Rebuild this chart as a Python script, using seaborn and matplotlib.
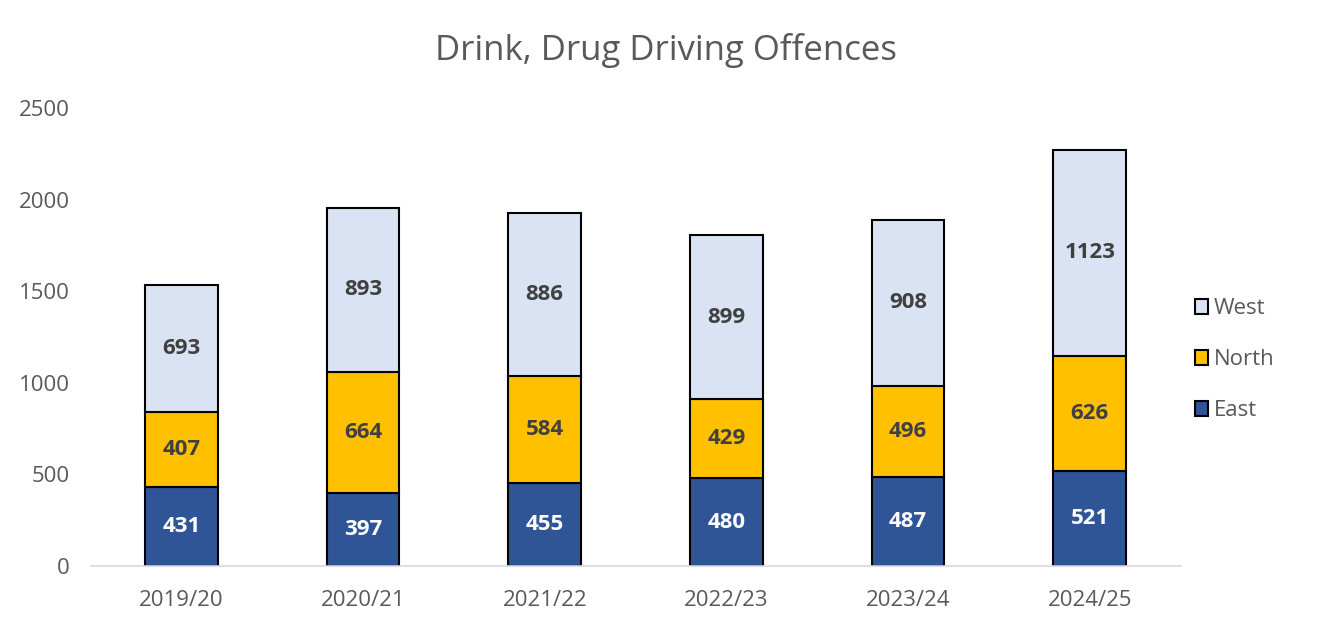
import matplotlib.pyplot as plt
import numpy as np
import pandas as pd
import seaborn as sns

years = ["2019/20", "2020/21", "2021/22", "2022/23", "2023/24", "2024/25"]
east = [431, 397, 455, 480, 487, 521]
north = [407, 664, 584, 429, 496, 626]
west = [693, 893, 886, 899, 908, 1123]

colors = {"East": "#2F5597", "North": "#FFC000", "West": "#DAE3F3"}
text_colors = {"East": "white", "North": "#404040", "West": "#404040"}

sns.set_theme(style="white")
plt.rcParams['font.family'] = ['Open Sans', 'DejaVu Sans']

fig = plt.figure(figsize=(13.31, 6.19), dpi=100)
ax = fig.add_axes([0.068, 0.0856, 0.819, 0.74])

df = pd.DataFrame({"year": years, "East": east, "North": north, "West": west})
bottom = np.zeros(len(years))
for name in ["East", "North", "West"]:
    sns.barplot(data=df, x="year", y=name, bottom=bottom, color=colors[name],
                width=0.4, edgecolor="black", linewidth=1.5, ax=ax, label=name,
                saturation=1)
    for i, v in enumerate(df[name]):
        ax.text(i, bottom[i] + v / 2, str(v), ha="center", va="center",
                fontsize=16, fontweight="bold", color=text_colors[name])
    bottom = bottom + df[name].values

ax.set_ylim(0, 2500)
ax.set_xlim(-0.5, 5.5)
ax.set_yticks([0, 500, 1000, 1500, 2000, 2500])
ax.set_xlabel("")
ax.set_ylabel("")
for s in ["top", "right", "left"]:
    ax.spines[s].set_visible(False)
ax.spines["bottom"].set_color("#D9D9D9")
ax.spines["bottom"].set_linewidth(1.2)
ax.tick_params(axis="both", colors="#595959", labelsize=16, length=0)
ax.tick_params(axis="y", pad=15)
ax.tick_params(axis="x", pad=17)

handles, labels = ax.get_legend_handles_labels()
ax.legend(handles[::-1], labels[::-1], loc="center left", bbox_to_anchor=(0.995, 0.45),
          frameon=False, fontsize=16, handlelength=0.6, handleheight=0.6,
          handletextpad=0.25, labelspacing=1.35, labelcolor="#595959")

fig.text(0.5, 0.919, "Drink, Drug Driving Offences", ha="center", va="center",
         fontsize=25, color="#595959")

fig.savefig("out.png", dpi=100)
